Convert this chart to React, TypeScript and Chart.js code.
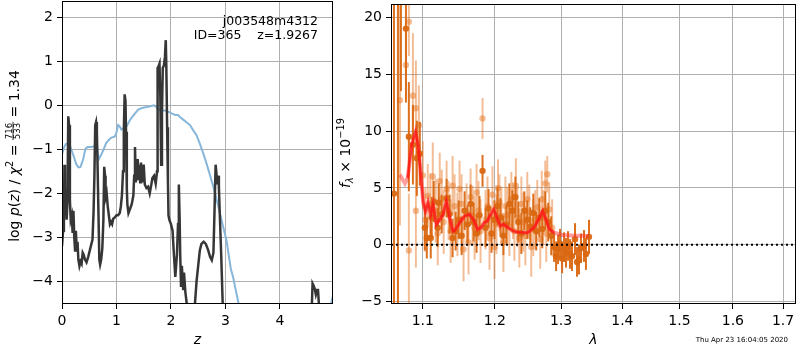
import React, { useEffect, useRef } from 'react';
import { Chart, registerables } from 'chart.js';
Chart.register(...registerables);

const FONT = '"DejaVu Sans", "Liberation Sans", sans-serif';

// ---------------- left panel: redshift fit ----------------
const objName = 'j003548m4312';
const objId = 365;
const zBest = '1.9267';
const chi2Num = '716';
const chi2Den = '533';
const chi2Red = '1.34';
const zTicks = [0, 1, 2, 3, 4];
const logpTicks = [-4, -3, -2, -1, 0, 1, 2];
const zMin = 0;
const zMax = 4.975;
const logpMin = -4.516;
const logpMax = 2.37;

// smooth (blue) curve
const templZ = [0, 0.03, 0.07, 0.1, 0.15, 0.21, 0.26, 0.3, 0.34, 0.39, 0.43, 0.47, 0.54, 0.6, 0.64, 0.665, 0.68, 0.72, 0.76, 0.81, 0.85, 0.9, 0.97, 1.0, 1.03, 1.06, 1.09, 1.13, 1.19, 1.24, 1.28, 1.33, 1.4, 1.47, 1.55, 1.62, 1.69, 1.74, 1.78, 1.84, 1.9, 1.96, 2.02, 2.08, 2.13, 2.17, 2.22, 2.28, 2.35, 2.41, 2.47, 2.53, 2.59, 2.65, 2.72, 2.78, 2.84, 2.9, 2.96, 3.02, 3.06, 3.1, 3.14, 3.19, 3.24, 3.3, 3.5, 4.0, 4.6, 4.85, 4.92, 4.97];
const templLogp = [-1.12, -0.98, -0.88, -0.87, -0.93, -1.14, -1.33, -1.41, -1.4, -1.22, -0.99, -0.95, -0.95, -0.93, -0.9, -1.15, -1.22, -1.12, -1.02, -0.86, -0.8, -0.74, -0.71, -0.62, -0.45, -0.48, -0.55, -0.52, -0.47, -0.35, -0.28, -0.2, -0.1, -0.06, -0.04, -0.02, 0.0, -0.05, -0.1, -0.12, -0.12, -0.15, -0.19, -0.22, -0.22, -0.27, -0.32, -0.38, -0.45, -0.57, -0.68, -0.87, -1.08, -1.31, -1.6, -1.86, -2.15, -2.46, -2.77, -3.07, -3.4, -3.72, -3.9, -4.2, -4.5, -4.85, -5.8, -6.5, -6.0, -4.85, -4.6, -4.35];

// jagged (black) curve
const pzZ = [0, 0.02, 0.035, 0.045, 0.055, 0.07, 0.085, 0.1, 0.115, 0.13, 0.145, 0.16, 0.18, 0.195, 0.21, 0.225, 0.24, 0.255, 0.27, 0.285, 0.3, 0.32, 0.34, 0.36, 0.38, 0.4, 0.42, 0.45, 0.48, 0.51, 0.54, 0.56, 0.58, 0.595, 0.61, 0.625, 0.64, 0.655, 0.67, 0.685, 0.7, 0.72, 0.74, 0.76, 0.775, 0.79, 0.8, 0.82, 0.84, 0.86, 0.88, 0.9, 0.92, 0.94, 0.97, 1.0, 1.03, 1.06, 1.08, 1.1, 1.12, 1.135, 1.15, 1.165, 1.175, 1.19, 1.2, 1.22, 1.25, 1.28, 1.31, 1.325, 1.34, 1.355, 1.37, 1.39, 1.405, 1.42, 1.435, 1.45, 1.47, 1.5, 1.52, 1.55, 1.58, 1.61, 1.64, 1.66, 1.69, 1.72, 1.745, 1.755, 1.77, 1.79, 1.805, 1.82, 1.835, 1.85, 1.87, 1.89, 1.905, 1.915, 1.93, 1.945, 1.955, 1.97, 2.0, 2.03, 2.05, 2.08, 2.11, 2.13, 2.145, 2.16, 2.17, 2.185, 2.2, 2.225, 2.24, 2.265, 2.29, 2.31, 2.35, 2.4, 2.43, 2.47, 2.5, 2.53, 2.56, 2.6, 2.64, 2.68, 2.72, 2.75, 2.78, 2.8, 2.82, 2.835, 2.85, 2.865, 2.88, 2.9, 2.92, 2.95, 2.98, 3.2, 4.0, 4.5, 4.58, 4.6, 4.62, 4.64, 4.66, 4.68, 4.7, 4.72, 4.74, 4.8, 4.97];
const pzLogp = [-3.2, -2.85, -2.7, -1.35, -2.5, -1.9, -2.6, -2.2, -0.25, -0.45, -2.15, -2.6, -2.5, -2.9, -2.4, -3.0, -3.3, -2.85, -3.3, -3.1, -3.5, -3.65, -3.55, -3.6, -3.35, -3.4, -3.5, -3.57, -3.45, -3.3, -3.15, -3.05, -2.4, -1.6, -0.45, -0.38, -0.6, -1.5, -2.5, -3.5, -3.62, -3.5, -3.25, -2.6, -1.4, -1.6, -2.1, -2.0, -2.3, -2.5, -2.7, -2.65, -2.7, -2.58, -2.55, -2.5, -2.5, -2.45, -2.3, -2.05, -1.5, -0.6, 0.25, 0.1, -0.6, -1.9, -2.25, -2.45, -2.35, -2.25, -2.05, -1.6, -0.95, -1.75, -1.5, -1.22, -1.7, -1.35, -1.75, -1.3, -1.75, -1.35, -1.8, -1.88, -1.85, -2.0, -1.8, -1.65, -1.6, -1.78, -1.5, 0.85, 0.88, 0.95, 0.2, -1.35, -0.2, 0.85, 0.9, 1.1, 1.48, 0.9, -0.5, -1.75, -2.5, -2.6, -2.7, -2.85, -3.3, -3.9, -3.4, -2.7, -1.8, -2.6, -3.4, -4.1, -3.65, -4.2, -3.8, -4.25, -4.5, -4.8, -5.5, -5.3, -4.7, -4.0, -3.65, -3.3, -3.15, -3.1, -3.15, -3.28, -3.45, -3.52, -3.35, -2.4, -1.35, -1.55, -1.8, -1.6, -1.85, -2.6, -3.3, -4.5, -5.5, -7.0, -7.0, -6.0, -4.8, -4.05, -4.1, -4.17, -4.3, -4.2, -4.2, -4.6, -5.5, -7.0, -7.0];

// ---------------- right panel: spectrum ----------------
const lamTicks = [1.1, 1.2, 1.3, 1.4, 1.5, 1.6, 1.7];
const fluxTicks = [-5, 0, 5, 10, 15, 20];
const lamMin = 1.0585;
const lamMax = 1.7268;
const fluxMin = -5.2;
const fluxMax = 21.16;
const timeStamp = 'Thu Apr 23 16:04:05 2020';

const lightWave = [1.07, 1.0778, 1.0816, 1.0816, 1.0869, 1.0908, 1.0908, 1.0947, 1.1, 1.1033, 1.1066, 1.11, 1.1133, 1.1173, 1.12, 1.1227, 1.1254, 1.1281, 1.1321, 1.1348, 1.1376, 1.1403, 1.143, 1.147, 1.1499, 1.1527, 1.1555, 1.1597, 1.1625, 1.1654, 1.1682, 1.171, 1.1738, 1.1766, 1.1795, 1.1823, 1.1866, 1.1894, 1.1923, 1.1966, 1.1995, 1.2024, 1.2046, 1.2067, 1.2096, 1.2125, 1.2154, 1.2183, 1.2213, 1.2242, 1.2265, 1.2287, 1.2309, 1.2331, 1.2361, 1.2391, 1.2421, 1.2451, 1.248, 1.251, 1.254, 1.2571, 1.2601, 1.2632, 1.2677, 1.27, 1.2723, 1.2754, 1.277, 1.2785, 1.2815, 1.2861];
const lightFlux = [12.7, 15.8, 19.6, -0.5, 13.1, 12.0, 3.0, 10.5, 6.1, 2.2, 4.3, 3.5, 6.0, 3.0, 1.0, 5.6, 4.0, 2.0, 4.9, 3.0, 1.2, 5.2, 3.4, 1.8, 4.9, 3.6, -0.4, 2.8, 0.2, 4.2, 2.6, 1.5, 4.6, 3.0, 1.2, 11.1, 2.2, 3.4, 0.6, 4.4, -0.2, 1.8, 5.0, 3.7, 2.5, 0.2, 3.4, 2.6, 1.6, 4.0, 3.0, 1.2, 5.2, 2.4, 0.6, 3.6, 2.0, 0.8, 4.0, 2.9, -0.2, 1.5, 2.2, 3.3, 0.5, 4.0, 2.4, 5.4, 1.0, 6.2, 3.1, 1.5];
const lightErr = [11.0, 3.0, 3.0, 5.0, 5.5, 4.2, 5.0, 3.5, 3.0, 2.8, 2.8, 2.8, 3.0, 2.8, 2.8, 2.5, 2.6, 2.8, 2.5, 2.6, 2.8, 2.6, 2.8, 2.8, 2.5, 2.6, 2.8, 2.6, 2.8, 2.5, 2.6, 2.8, 2.5, 2.6, 2.8, 1.8, 2.6, 2.6, 2.8, 2.5, 2.8, 2.6, 2.5, 2.5, 2.6, 2.6, 2.6, 2.5, 2.6, 2.4, 2.5, 2.6, 2.4, 2.6, 2.6, 2.4, 2.6, 2.6, 2.4, 2.4, 2.6, 2.5, 2.6, 2.4, 2.6, 2.5, 2.4, 2.0, 2.5, 1.6, 2.4, 2.5];

const darkWave = [1.0623, 1.0674, 1.0713, 1.0778, 1.0816, 1.0869, 1.0921, 1.096, 1.1026, 1.1053, 1.1106, 1.1119, 1.1146, 1.1199, 1.1213, 1.1253, 1.1321, 1.1362, 1.1403, 1.1445, 1.1487, 1.1528, 1.157, 1.1612, 1.1654, 1.1696, 1.1738, 1.178, 1.1823, 1.1866, 1.1909, 1.1952, 1.1995, 1.2038, 1.2082, 1.2125, 1.2169, 1.2213, 1.2257, 1.2302, 1.2346, 1.2391, 1.2436, 1.248, 1.2525, 1.2571, 1.2616, 1.2662, 1.2708, 1.2754, 1.28, 1.2846, 1.2891, 1.2922, 1.2953, 1.2984, 1.3016, 1.3047, 1.3078, 1.311, 1.3141, 1.3173, 1.3221, 1.3253, 1.3285, 1.3317, 1.3365, 1.3397, 1.3446];
const darkFlux = [4.5, 30, 22, 19.0, 9.5, 8.8, 7.6, 8.0, 1.5, 0.6, 0.6, 2.4, 3.8, 1.5, 3.7, 2.7, 4.1, 2.7, 0.6, 1.2, 2.2, 0.8, 3.0, 1.8, 3.6, 2.0, 1.0, 2.6, 6.5, 1.5, 3.2, 1.0, 2.2, 3.4, 2.4, 0.8, 1.8, 3.6, 3.0, 4.2, 2.0, 1.0, 3.0, 2.2, 1.6, 2.8, 1.2, 2.4, 1.4, 3.0, 2.0, 0.8, -0.2, -1.0, -0.4, 0.1, -1.2, -0.2, -0.7, -0.1, -0.8, -1.0, 0.5, -1.5, -1.3, -0.3, -0.1, -0.8, 0.7];
const darkErr = [30, 36, 8.5, 6.5, 4.8, 3.5, 3.3, 2.8, 2.0, 1.8, 1.8, 1.8, 1.8, 1.7, 1.7, 1.7, 1.7, 1.7, 1.7, 1.7, 1.7, 1.7, 1.7, 1.7, 1.7, 1.7, 1.7, 1.7, 1.4, 1.7, 1.7, 1.7, 1.7, 1.7, 1.7, 1.7, 1.7, 1.8, 1.8, 1.8, 1.8, 1.8, 1.7, 1.7, 1.7, 1.7, 1.7, 1.7, 1.7, 1.7, 1.7, 1.7, 1.3, 1.3, 1.3, 1.3, 1.3, 1.3, 1.3, 1.3, 1.3, 1.3, 1.4, 1.3, 1.3, 1.3, 1.4, 1.4, 1.5];

const modelWave = [1.07, 1.0713, 1.0765, 1.08, 1.0852, 1.0904, 1.0938, 1.0974, 1.1004, 1.1036, 1.107, 1.1106, 1.1136, 1.1181, 1.1227, 1.1271, 1.1318, 1.1362, 1.1406, 1.143, 1.1499, 1.1568, 1.1637, 1.1693, 1.1752, 1.18, 1.1845, 1.1892, 1.1939, 1.1985, 1.2032, 1.208, 1.2126, 1.2196, 1.2267, 1.2338, 1.2482, 1.2579, 1.2652, 1.2714, 1.2773, 1.282, 1.2893, 1.3016, 1.3213, 1.3362, 1.3446];
const modelFlux = [5.9, 6.0, 5.4, 5.85, 8.75, 9.9, 8.75, 6.1, 3.8, 2.96, 3.7, 2.67, 3.5, 1.8, 2.2, 2.67, 3.8, 2.37, 1.2, 1.22, 1.94, 2.52, 2.67, 2.23, 1.36, 1.5, 1.94, 2.09, 2.67, 3.1, 2.38, 1.65, 1.8, 1.5, 1.22, 1.1, 1.07, 1.5, 2.23, 2.96, 2.09, 1.36, 1.07, 0.87, 0.8, 0.8, 0.75];
const modelStrongRange = [1.078, 1.29];

// ---------------- helpers ----------------
type Part = { t?: string; italic?: boolean; size?: number; dy?: number; frac?: [string, string] };

const fmtNum = (v: number, digits = 0) => {
  const s = Math.abs(v).toFixed(digits);
  return v < 0 ? '\u2212' + s : s;
};

function partWidth(ctx: CanvasRenderingContext2D, p: Part, base: number) {
  if (p.frac) {
    ctx.font = `8.5px ${FONT}`;
    return Math.max(ctx.measureText(p.frac[0]).width, ctx.measureText(p.frac[1]).width) + 2;
  }
  ctx.font = `${p.italic ? 'italic ' : ''}${p.size ?? base}px ${FONT}`;
  return ctx.measureText(p.t || '').width;
}

function drawParts(ctx: CanvasRenderingContext2D, parts: Part[], cx: number, y: number, base: number) {
  let total = 0;
  parts.forEach((p) => (total += partWidth(ctx, p, base)));
  let x = cx - total / 2;
  ctx.textAlign = 'left';
  ctx.textBaseline = 'alphabetic';
  ctx.fillStyle = '#000';
  parts.forEach((p) => {
    const w = partWidth(ctx, p, base);
    if (p.frac) {
      ctx.font = `8.5px ${FONT}`;
      const wn = ctx.measureText(p.frac[0]).width;
      const wd = ctx.measureText(p.frac[1]).width;
      ctx.fillText(p.frac[0], x + (w - wn) / 2, y - 7);
      ctx.fillText(p.frac[1], x + (w - wd) / 2, y + 1.8);
      ctx.fillRect(x, y - 5.9, w, 0.8);
    } else {
      ctx.font = `${p.italic ? 'italic ' : ''}${p.size ?? base}px ${FONT}`;
      ctx.fillText(p.t || '', x, y + (p.dy || 0));
    }
    x += w;
  });
}

const framePlugin = {
  id: 'frame',
  afterDraw(chart: any) {
    const { ctx, chartArea: a } = chart;
    ctx.save();
    ctx.strokeStyle = '#000';
    ctx.lineWidth = 1;
    ctx.strokeRect(a.left + 0.5, a.top + 0.5, a.right - a.left - 1, a.bottom - a.top - 1);
    ctx.restore();
  },
};

const errorBarPlugin = {
  id: 'errbars',
  beforeDatasetDraw(chart: any, args: any) {
    const ds: any = chart.data.datasets[args.index];
    if (!ds.errors) return;
    const { ctx, chartArea: a } = chart;
    const xs = chart.scales.x;
    const ys = chart.scales.y;
    ctx.save();
    ctx.beginPath();
    ctx.rect(a.left, a.top, a.right - a.left, a.bottom - a.top);
    ctx.clip();
    ctx.strokeStyle = ds.errColor;
    ctx.lineWidth = 2;
    ds.data.forEach((p: any, i: number) => {
      const px = xs.getPixelForValue(p.x);
      ctx.beginPath();
      ctx.moveTo(px, ys.getPixelForValue(p.y - ds.errors[i]));
      ctx.lineTo(px, ys.getPixelForValue(p.y + ds.errors[i]));
      ctx.stroke();
    });
    ctx.restore();
  },
};

const axisCommon = (ticksArr: number[], digits: number) => ({
  afterBuildTicks: (s: any) => {
    s.ticks = ticksArr.map((v) => ({ value: v }));
  },
  grid: { color: '#b0b0b0', lineWidth: 1, tickColor: '#000', tickLength: 5, tickWidth: 1 },
  border: { display: false },
  ticks: {
    autoSkip: false,
    maxRotation: 0,
    color: '#000',
    padding: 4,
    font: { size: 14, family: FONT },
    callback: (v: any) => fmtNum(Number(v), digits),
  },
});

function makeLeft(canvas: HTMLCanvasElement) {
  const labels = {
    id: 'leftLabels',
    afterDraw(chart: any) {
      const { ctx, chartArea: a } = chart;
      ctx.save();
      ctx.fillStyle = '#000';
      ctx.font = `12.5px ${FONT}`;
      ctx.textAlign = 'right';
      ctx.textBaseline = 'alphabetic';
      ctx.fillText(objName, a.right - 15, 24.5);
      ctx.fillText(`ID=${objId}    z=${zBest}`, a.right - 15, 38.5);
      drawParts(ctx, [{ t: 'z', italic: true }], (a.left + a.right) / 2, 344, 14);
      ctx.translate(18.5, 156);
      ctx.rotate(-Math.PI / 2);
      drawParts(
        ctx,
        [
          { t: 'log ' },
          { t: 'p', italic: true },
          { t: '(' },
          { t: 'z', italic: true },
          { t: ') / ' },
          { t: '\u03c7', italic: true },
          { t: '2', size: 9.8, dy: -5.5 },
          { t: ' = ' },
          { frac: [chi2Num, chi2Den] },
          { t: ' = ' + chi2Red },
        ],
        0,
        0,
        14
      );
      ctx.restore();
    },
  };
  return new Chart(canvas, {
    type: 'line',
    data: {
      datasets: [
        {
          data: pzZ.map((z, i) => ({ x: z, y: pzLogp[i] })),
          borderColor: '#363636',
          borderWidth: 2.5,
          pointRadius: 0,
          tension: 0,
          order: 0,
        },
        {
          data: templZ.map((z, i) => ({ x: z, y: templLogp[i] })),
          borderColor: '#86b6da',
          borderWidth: 2,
          pointRadius: 0,
          tension: 0,
          order: 1,
        },
      ],
    },
    options: {
      responsive: false,
      animation: false,
      events: [],
      layout: { padding: { top: 1, right: 2, left: 0, bottom: 0 } },
      plugins: { legend: { display: false }, tooltip: { enabled: false } },
      scales: {
        x: {
          type: 'linear',
          min: zMin,
          max: zMax,
          ...axisCommon(zTicks, 0),
          afterFit: (s: any) => {
            s.height = 46;
            s.paddingLeft = 0;
            s.paddingRight = 0;
          },
        },
        y: {
          type: 'linear',
          min: logpMin,
          max: logpMax,
          ...axisCommon(logpTicks, 0),
          afterFit: (s: any) => {
            s.width = 62;
            s.paddingTop = 0;
            s.paddingBottom = 0;
          },
        },
      },
    } as any,
    plugins: [framePlugin, labels],
  });
}

function makeRight(canvas: HTMLCanvasElement) {
  const labels = {
    id: 'rightLabels',
    afterDraw(chart: any) {
      const { ctx, chartArea: a } = chart;
      ctx.save();
      drawParts(ctx, [{ t: '\u03bb', italic: true }], (a.left + a.right) / 2, 344, 14);
      ctx.font = `7px ${FONT}`;
      ctx.textAlign = 'right';
      ctx.textBaseline = 'alphabetic';
      ctx.fillStyle = '#000';
      ctx.fillText(timeStamp, 453, 341.5);
      ctx.translate(14.5, 153);
      ctx.rotate(-Math.PI / 2);
      drawParts(
        ctx,
        [
          { t: 'f', italic: true },
          { t: '\u03bb', italic: true, size: 9.8, dy: 3 },
          { t: ' \u00d7 10' },
          { t: '\u221219', size: 9.8, dy: -6 },
        ],
        0,
        0,
        14
      );
      ctx.restore();
    },
  };
  const strong = modelWave
    .map((w, i) => ({ x: w, y: modelFlux[i] }))
    .filter((p) => p.x >= modelStrongRange[0] && p.x <= modelStrongRange[1]);
  return new Chart(canvas, {
    type: 'scatter',
    data: {
      datasets: [
        {
          data: [
            { x: lamMin, y: 0 },
            { x: lamMax, y: 0 },
          ],
          showLine: true,
          borderColor: '#000',
          borderWidth: 2,
          borderDash: [2, 3],
          pointRadius: 0,
          order: 0,
        },
        {
          data: strong,
          showLine: true,
          borderColor: 'rgba(255,20,20,0.75)',
          borderWidth: 2.5,
          pointRadius: 0,
          order: 1,
        },
        {
          data: modelWave.map((w, i) => ({ x: w, y: modelFlux[i] })),
          showLine: true,
          borderColor: 'rgba(255,40,40,0.45)',
          borderWidth: 4,
          pointRadius: 0,
          order: 2,
        },
        {
          data: darkWave.map((w, i) => ({ x: w, y: darkFlux[i] })),
          errors: darkErr,
          errColor: 'rgba(218,104,18,0.95)',
          backgroundColor: 'rgba(218,104,18,0.95)',
          borderWidth: 0,
          pointRadius: 3.2,
          order: 3,
        },
        {
          data: lightWave.map((w, i) => ({ x: w, y: lightFlux[i] })),
          errors: lightErr,
          errColor: 'rgba(228,110,25,0.45)',
          backgroundColor: 'rgba(228,110,25,0.45)',
          borderWidth: 0,
          pointRadius: 3.2,
          order: 4,
        },
      ] as any,
    },
    options: {
      responsive: false,
      animation: false,
      events: [],
      layout: { padding: { top: 1, right: 2, left: 0, bottom: 0 } },
      plugins: { legend: { display: false }, tooltip: { enabled: false } },
      scales: {
        x: {
          type: 'logarithmic',
          min: lamMin,
          max: lamMax,
          ...axisCommon(lamTicks, 1),
          afterFit: (s: any) => {
            s.height = 46;
            s.paddingLeft = 0;
            s.paddingRight = 0;
          },
        },
        y: {
          type: 'linear',
          min: fluxMin,
          max: fluxMax,
          ...axisCommon(fluxTicks, 0),
          afterFit: (s: any) => {
            s.width = 56;
            s.paddingTop = 0;
            s.paddingBottom = 0;
          },
        },
      },
    } as any,
    plugins: [errorBarPlugin, framePlugin, labels],
  });
}

export default function App() {
  const leftRef = useRef<HTMLCanvasElement>(null);
  const rightRef = useRef<HTMLCanvasElement>(null);
  useEffect(() => {
    const c1 = makeLeft(leftRef.current!);
    const c2 = makeRight(rightRef.current!);
    return () => {
      c1.destroy();
      c2.destroy();
    };
  }, []);
  return (
    <div style={{ position: 'fixed', left: 0, top: 0, width: 800, height: 350, background: '#fff' }}>
      <canvas ref={leftRef} width={335} height={350} style={{ position: 'absolute', left: 0, top: 0, width: 335, height: 350 }} />
      <canvas ref={rightRef} width={465} height={350} style={{ position: 'absolute', left: 335, top: 0, width: 465, height: 350 }} />
    </div>
  );
}
